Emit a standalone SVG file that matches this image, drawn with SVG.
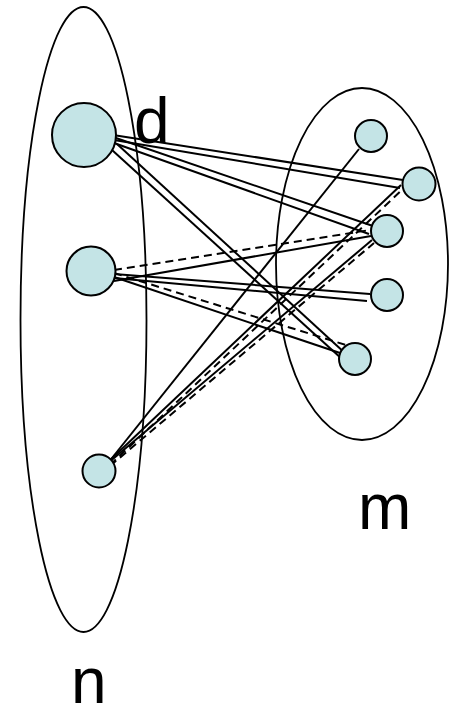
<svg xmlns="http://www.w3.org/2000/svg" width="449" height="706" viewBox="0 0 449 706">
<style>
.set{fill:none;stroke:#000;stroke-width:1.8}
.nd{fill:#c4e4e6;stroke:#000;stroke-width:2}
.e{stroke:#000;stroke-width:2;fill:none}
.dash{stroke-dasharray:8 5}
.lbl{font-family:"Liberation Sans",Arial,sans-serif;font-size:64px;fill:#000}
</style>
<g id="set-n"><ellipse class="set" cx="83.5" cy="319.5" rx="63" ry="312.5"/><text class="lbl" x="71" y="703">n</text></g>
<g id="set-m"><ellipse class="set" cx="362" cy="264" rx="86" ry="176"/><text class="lbl" x="358" y="529">m</text></g>
<g id="connectors">
<line class="e" x1="113" y1="135" x2="403" y2="180"/>
<line class="e" x1="114" y1="140" x2="400" y2="188"/>
<line class="e" x1="113" y1="137" x2="373" y2="226"/>
<line class="e" x1="114" y1="143" x2="369" y2="234"/>
<line class="e" x1="117" y1="144" x2="346" y2="354"/>
<line class="e" x1="112" y1="150" x2="342" y2="359"/>
<line class="e dash" x1="114" y1="270" x2="370" y2="230"/>
<line class="e" x1="114" y1="281" x2="371" y2="236"/>
<line class="e" x1="114" y1="274" x2="370" y2="294"/>
<line class="e" x1="114" y1="278" x2="367" y2="301"/>
<line class="e dash" x1="114" y1="273" x2="346" y2="345"/>
<line class="e" x1="114" y1="277" x2="340" y2="353"/>
<line class="e" x1="108" y1="463" x2="359" y2="149" stroke-width="2.4"/>
<line class="e" x1="107" y1="463" x2="401" y2="185"/>
<line class="e dash" x1="110" y1="465" x2="404" y2="188"/>
<line class="e" x1="107" y1="464" x2="372" y2="240"/>
<line class="e dash" x1="110" y1="466" x2="374" y2="243"/>
</g>
<g id="node-d"><circle class="nd" cx="84" cy="135" r="32"/><text class="lbl" x="134" y="143">d</text></g>
<g id="node-n2"><circle class="nd" cx="91" cy="271" r="24.5"/></g>
<g id="node-n3"><circle class="nd" cx="99" cy="471" r="16.5"/></g>
<g id="node-m1"><circle class="nd" cx="371" cy="136" r="16"/></g>
<g id="node-m2"><circle class="nd" cx="419" cy="184" r="16.5"/></g>
<g id="node-m3"><circle class="nd" cx="387" cy="231" r="16"/></g>
<g id="node-m4"><circle class="nd" cx="387" cy="295" r="16"/></g>
<g id="node-m5"><circle class="nd" cx="355" cy="359" r="16"/></g>
</svg>
